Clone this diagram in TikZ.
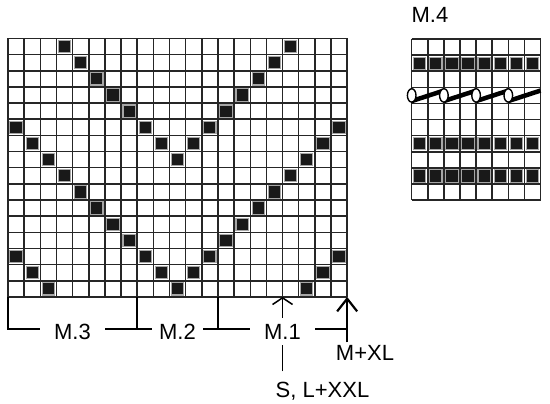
\documentclass[tikz,border=0pt]{standalone}
\usepackage{fontspec}
\setmainfont{Liberation Sans}
\usetikzlibrary{arrows.meta}

\tikzset{
  gridline/.style={line width=1.5pt, black!85},
  stitch/.style={fill=black!90, draw=black!35, line width=1.1pt},
  bracket/.style={line width=1.5pt},
  chartlabel/.style={font=\fontsize{22}{26}\selectfont, inner sep=0pt},
}

\begin{document}
\begin{tikzpicture}[x=1pt, y=-1pt]
  \useasboundingbox (0,0) rectangle (550,404);

  %% Main chart (M.3, M.2, M.1)
  \begin{scope}[shift={(8pt,-38.5pt)}, x=16.15pt, y=-16.15pt]
    % Black stitches, two repeats of 8 rows
    \foreach \b in {0,8}
      \foreach \r/\cs in {1/{4,18}, 2/{5,17}, 3/{6,16}, 4/{7,15}, 5/{8,14},
                          6/{1,9,13,21}, 7/{2,10,12,20}, 8/{3,11,19}}
        \foreach \c in \cs
          \draw[stitch] (\c-0.88,\r+\b-0.88) rectangle (\c-0.12,\r+\b-0.12);
    % Grid
    \foreach \i in {0,...,21} \draw[gridline] (\i,0) -- (\i,16);
    \foreach \j in {0,...,16} \draw[gridline] (0,\j) -- (21,\j);
    % Bottom edge points
    \coordinate (b0) at (0,16);
    \coordinate (b8) at (8,16);
    \coordinate (b13) at (13,16);
    \coordinate (b17) at (17,16);
    \coordinate (b21) at (21,16);
  \end{scope}

  % Brackets
  \coordinate (lvl) at (0,329);
  \node[chartlabel, minimum width=65pt] (m3) at (72.5,332) {M.3};
  \node[chartlabel, minimum width=51pt] (m2) at (177.5,332) {M.2};
  \node[chartlabel, minimum width=65pt, minimum height=27pt] (m1) at (282.5,331.5) {M.1};
  \draw[bracket] (b0) |- (m3.west |- lvl);
  \draw[bracket] (m3.east |- lvl) -| (b8);
  \draw[bracket] (b8 |- lvl) -- (m2.west |- lvl);
  \draw[bracket] (m2.east |- lvl) -| (b13);
  \draw[bracket] (b13 |- lvl) -- (m1.west |- lvl);
  \draw[bracket] (m1.east |- lvl) -- (b21 |- lvl);

  % Sizes
  \node[chartlabel, anchor=base, inner ysep=10pt] (sl) at (322.5,397) {S, L+XXL};
  \node[chartlabel, anchor=base, inner ysep=3pt] (mxl) at (365,360.7) {M+XL};
  \draw[bracket] (sl.north -| b17) -- (m1.south -| b17);
  \draw[bracket, -{Straight Barb[length=6.7pt, width=20pt]}] (m1.north -| b17) -- (b17);
  \draw[bracket, line width=2.2pt, -{Straight Barb[length=12.7pt, width=20pt]}] (mxl.north -| b21) -- (b21);

  %% Chart M.4
  \node[chartlabel, anchor=base] (m4) at (430,23) {M.4};
  \begin{scope}[shift={(411.7pt,-39pt)}, x=16.1pt, y=-16.12pt]
    % Black rows
    \foreach \r in {2,7,9}
      \foreach \c in {1,...,8}
        \draw[stitch] (\c-0.88,\r-0.88) rectangle (\c-0.12,\r-0.12);
    % Grid
    \foreach \i in {0,...,8} \draw[gridline] (\i,0) -- (\i,10);
    \foreach \j in {0,...,10} \draw[gridline] (0,\j) -- (8,\j);
    % Twisted row
    \foreach \k in {0,2,4,6}
      \draw[line width=4.5pt] (\k,3.85) -- (\k+2,3.2);
    \foreach \k in {0,2,4,6}
      \draw[fill=white, line width=1.4pt] (\k,3.5) ellipse (4.3pt and 6.7pt);
  \end{scope}

\end{tikzpicture}
\end{document}
